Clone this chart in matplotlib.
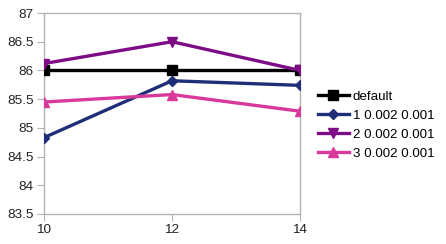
import matplotlib
matplotlib.use("Agg")
import matplotlib.pyplot as plt

x = [10, 12, 14]
labels = ["default", "1 0.002 0.001", "2 0.002 0.001", "3 0.002 0.001"]
default = [86.0, 86.0, 86.0]
s1 = [84.83, 85.82, 85.74]
s2 = [86.12, 86.50, 86.0]
s3 = [85.45, 85.58, 85.29]
yticks = [83.5, 84, 84.5, 85, 85.5, 86, 86.5, 87]
xticks = [10, 12, 14]

plt.rcParams['font.family'] = ['Liberation Sans', 'DejaVu Sans']

fig = plt.figure(figsize=(4.46, 2.44), dpi=100)
ax = fig.add_axes([44/446, 1-214/244, (300-44)/446, (214-13)/244])

ax.plot(x, default, color="#000000", lw=2.4, marker="s", ms=6.5, label=labels[0], zorder=3)
ax.plot(x, s1, color="#1f2e78", lw=2.4, marker="D", ms=5.5, label=labels[1], zorder=4)
ax.plot(x, s2, color="#7e0c86", lw=2.4, marker="v", ms=6.5, label=labels[2], zorder=4)
ax.plot(x, s3, color="#d9399a", lw=2.4, marker="^", ms=6.5, label=labels[3], zorder=4)

ax.set_xlim(10, 14)
ax.set_ylim(83.5, 87)
ax.set_xticks(xticks)
ax.set_yticks(yticks)
ax.set_yticklabels([f"{v:g}" for v in yticks])
for s in ax.spines.values():
    s.set_color("#b3b3b3")
    s.set_linewidth(1)
ax.tick_params(direction="out", length=5, color="#b3b3b3", labelsize=9.7, pad=2.5, labelcolor="#222222")
for lab in ax.get_yticklabels() + ax.get_xticklabels():
    lab.set_clip_on(False)

leg = fig.legend(*ax.get_legend_handles_labels(), loc="center left",
                 bbox_to_anchor=(318/446, 1-125/244), bbox_transform=fig.transFigure,
                 frameon=False, fontsize=9.6, borderpad=0, borderaxespad=0,
                 handlelength=2.3, handletextpad=0.3, labelspacing=0.5)
fig.savefig("out.png", dpi=100)
